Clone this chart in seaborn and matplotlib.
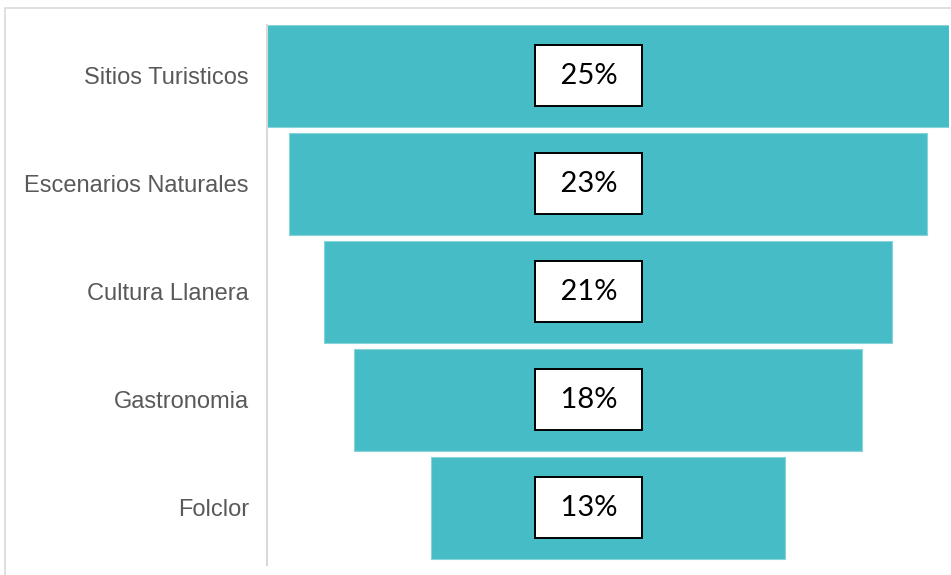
import matplotlib.pyplot as plt
import matplotlib.lines as mlines
import pandas as pd
import seaborn as sns

# Datos del embudo (porcentaje de preferencia)
categorias = ['Sitios Turisticos', 'Escenarios Naturales', 'Cultura Llanera',
              'Gastronomia', 'Folclor']
valores = [25.0, 23.4, 20.8, 18.6, 13.0]
etiquetas = ['25%', '23%', '21%', '18%', '13%']

df = pd.DataFrame({'categoria': categorias, 'valor': valores})

sns.set_style('white')
plt.rcParams['font.family'] = ['Liberation Sans', 'DejaVu Sans']

fig = plt.figure(figsize=(9.51, 5.75), dpi=100)
ax = fig.add_axes([267 / 951, 10 / 575, 682 / 951, 540 / 575])

sns.barplot(data=df, x='valor', y='categoria', orient='h', color='#46BDC6',
            saturation=1, width=0.944, edgecolor='#86d3d9', linewidth=0.8, ax=ax)

# centrar cada barra en cero para formar el embudo
for p in ax.patches:
    p.set_x(-p.get_width() / 2)

for i, (v, lab) in enumerate(zip(valores, etiquetas)):
    ax.text(-0.7, i, ' ' + lab + ' ', ha='center', va='center', fontsize=21,
            family=['Lato', 'DejaVu Sans'], color='black',
            bbox=dict(boxstyle='square,pad=0.6', facecolor='white',
                      edgecolor='black', linewidth=1.4))

ax.set_xlim(-12.5, 12.5)
ax.set_ylim(4.53, -0.47)
ax.set_xlabel('')
ax.set_ylabel('')
ax.set_xticks([])
ax.tick_params(axis='y', length=0, pad=13, labelsize=17, labelcolor='#595959')
for s in ['top', 'right', 'bottom']:
    ax.spines[s].set_visible(False)
ax.spines['left'].set_color('#d9d9d9')
ax.spines['left'].set_linewidth(1.5)

# marco exterior gris claro (solo arriba e izquierda visibles)
fig.lines.append(mlines.Line2D([5 / 951, 5 / 951, 1], [0, 1 - 8 / 575, 1 - 8 / 575],
                               transform=fig.transFigure, color='#d9d9d9',
                               linewidth=1.2))

fig.savefig('out.png', dpi=100)
